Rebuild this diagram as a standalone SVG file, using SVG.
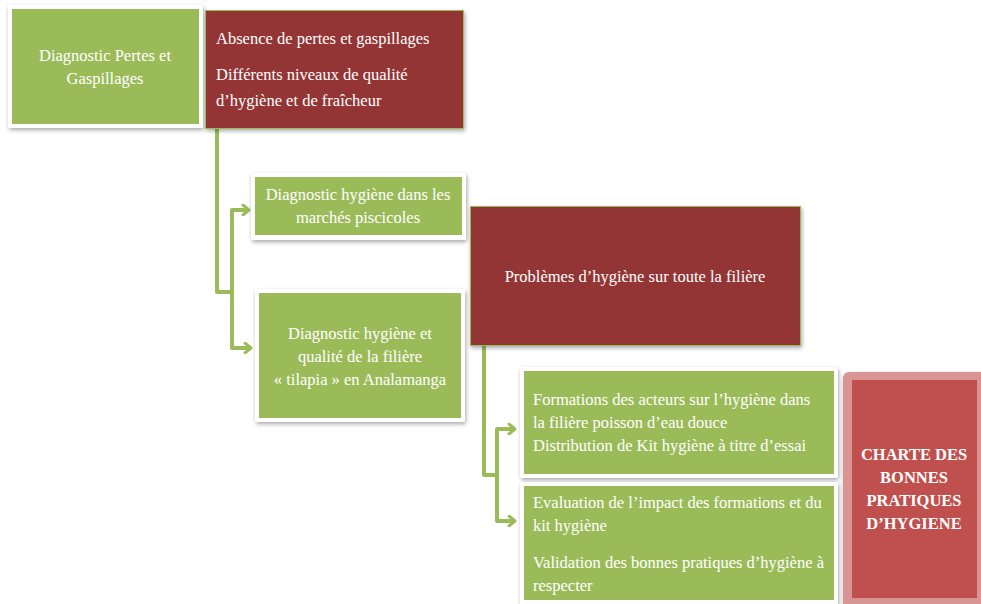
<svg xmlns="http://www.w3.org/2000/svg" width="981" height="604" viewBox="0 0 981 604">
<defs>
<filter id="sh" x="-10%" y="-10%" width="125%" height="130%">
<feGaussianBlur in="SourceAlpha" stdDeviation="2"/>
<feOffset dx="1" dy="2" result="b"/>
<feComponentTransfer><feFuncA type="linear" slope="0.35"/></feComponentTransfer>
<feMerge><feMergeNode/><feMergeNode in="SourceGraphic"/></feMerge>
</filter>
<marker id="chev" viewBox="0 0 10 12" refX="8" refY="6" markerWidth="10" markerHeight="12" markerUnits="userSpaceOnUse" orient="auto">
<polyline points="2,1 8,6 2,11" fill="none" stroke="#9bbb59" stroke-width="3" stroke-linecap="round" stroke-linejoin="round"/>
</marker>
</defs>
<style>
.frame{fill:#ffffff;filter:url(#sh)}
.green{fill:#9bbb59}
.red{fill:#943634;stroke:#9bbb59;stroke-width:1}
.t{font-family:"Liberation Serif","Times New Roman",serif;font-size:16.5px;fill:#ffffff}
.c{text-anchor:middle}
.b{font-weight:bold}
.con{fill:none;stroke:#9bbb59;stroke-width:4;stroke-linejoin:round}
</style>
<rect width="981" height="604" fill="#ffffff"/>
<g id="connectors">
<path class="con" d="M217,129 V292 H232"/>
<path class="con" d="M232,292 V210 H249" marker-end="url(#chev)"/>
<path class="con" d="M232,292 V348 H251" marker-end="url(#chev)"/>
<path class="con" d="M484,346 V475 H497"/>
<path class="con" d="M497,475 V429 H515" marker-end="url(#chev)"/>
<path class="con" d="M497,475 V521 H515" marker-end="url(#chev)"/>
</g>
<g id="n1">
<rect class="frame" x="8" y="5" width="195" height="123" rx="2"/>
<rect class="green" x="12" y="9" width="187" height="115"/>
<text class="t c" x="105" y="61">Diagnostic Pertes et</text>
<text class="t c" x="105" y="84">Gaspillages</text>
</g>
<g id="n2">
<rect class="red" x="205.5" y="10.5" width="258" height="118" filter="url(#sh)"/>
<text class="t" x="216" y="44">Absence de pertes et gaspillages</text>
<text class="t" x="216" y="80">Différents niveaux de qualité</text>
<text class="t" x="216" y="106">d’hygiène et de fraîcheur</text>
</g>
<g id="n3">
<rect class="frame" x="251" y="173" width="215" height="67" rx="2"/>
<rect class="green" x="255" y="177" width="207" height="58"/>
<text class="t c" x="358" y="200">Diagnostic hygiène dans les</text>
<text class="t c" x="358" y="223">marchés piscicoles</text>
</g>
<g id="n4">
<rect class="frame" x="255" y="289" width="210" height="133" rx="2"/>
<rect class="green" x="259" y="293" width="202" height="125"/>
<text class="t c" x="360" y="339">Diagnostic hygiène et</text>
<text class="t c" x="360" y="362">qualité de la filière</text>
<text class="t c" x="360" y="385">« tilapia » en Analamanga</text>
</g>
<g id="n5">
<rect class="red" x="470.5" y="206.5" width="330" height="139" filter="url(#sh)"/>
<text class="t c" x="635" y="282">Problèmes d’hygiène sur toute la filière</text>
</g>
<g id="n6">
<rect class="frame" x="520" y="367" width="318" height="111" rx="2"/>
<rect class="green" x="524" y="371" width="310" height="103"/>
<text class="t" x="533" y="405">Formations des acteurs sur l’hygiène dans</text>
<text class="t" x="533" y="428">la filière poisson d’eau douce</text>
<text class="t" x="533" y="451">Distribution de Kit hygiène à titre d’essai</text>
</g>
<g id="n7">
<rect class="frame" x="520" y="482" width="318" height="126" rx="2"/>
<rect class="green" x="524" y="486" width="310" height="114"/>
<text class="t" x="533" y="508">Evaluation de l’impact des formations et du</text>
<text class="t" x="533" y="531">kit hygiène</text>
<text class="t" x="533" y="568">Validation des bonnes pratiques d’hygiène à</text>
<text class="t" x="533" y="591">respecter</text>
</g>
<g id="n8">
<rect x="843" y="372" width="145" height="238" rx="6" fill="#d99594" filter="url(#sh)"/>
<rect x="852" y="380" width="125" height="218" fill="#c0504d"/>
<text class="t c b" x="914" y="460">CHARTE DES</text>
<text class="t c b" x="914" y="483">BONNES</text>
<text class="t c b" x="914" y="506">PRATIQUES</text>
<text class="t c b" x="914" y="529">D’HYGIENE</text>
</g>
</svg>
